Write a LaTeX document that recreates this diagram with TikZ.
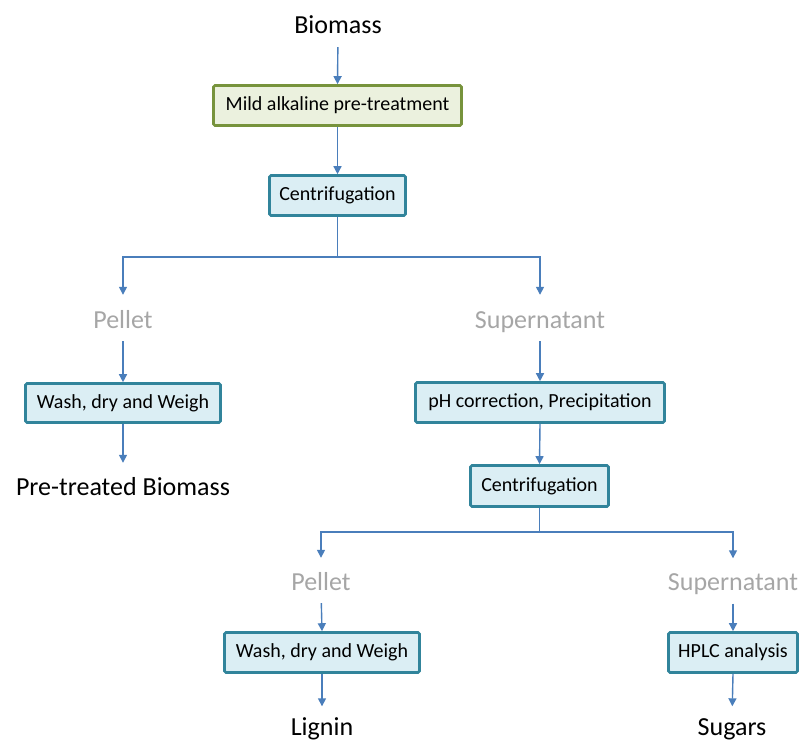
\documentclass[tikz,border=0pt]{standalone}
\usepackage{fontspec}
\setmainfont{Carlito}
\usetikzlibrary{arrows.meta}
\definecolor{arrblue}{HTML}{4A7EBB}
\definecolor{greenbd}{HTML}{77933C}
\definecolor{greenfill}{HTML}{EBF1DE}
\definecolor{tealbd}{HTML}{31849B}
\definecolor{tealfill}{HTML}{DBEEF4}
\definecolor{labgray}{HTML}{A6A6A6}
\tikzset{
  stagebox/.style={draw=tealbd, fill=tealfill, line width=2.6pt, rounded corners=1.5pt,
    inner sep=0pt, font=\fontsize{20}{24}\selectfont, text=black},
  greenbox/.style={stagebox, draw=greenbd, fill=greenfill},
  biglab/.style={inner sep=0pt, text height=17pt, text depth=0pt, font=\fontsize{26}{30}\selectfont, text=black},
  graylab/.style={biglab, text=labgray},
  flowline/.style={draw=arrblue, line width=1.4pt},
  flowarr/.style={flowline, -{Triangle[width=8pt,length=8pt]}},
}
\begin{document}
\begin{tikzpicture}[x=1pt,y=-1pt]
\useasboundingbox (0,0) rectangle (802,742);

% labels
\node[biglab] (biomass) at (338,24.5) {Biomass};
\node[graylab] (pellet1) at (123,319.5) {Pellet};
\node[graylab] (super1) at (540,319.5) {Supernatant};
\node[biglab] (pretreated) at (123,486.5) {Pre-treated Biomass};
\node[graylab] (pellet2) at (321,581.5) {Pellet};
\node[graylab] (super2) at (733,582) {Supernatant};
\node[biglab] (lignin) at (322,727) {Lignin};
\node[biglab] (sugars) at (732,727) {Sugars};

% boxes
\node[greenbox, minimum width=248pt, minimum height=40pt] (mild) at (337.5,105.5) {Mild alkaline pre-treatment};
\node[stagebox, minimum width=136pt, minimum height=40pt] (cent1) at (337.5,195.5) {Centrifugation};
\node[stagebox, minimum width=195pt, minimum height=39pt] (wash1) at (123,403) {Wash, dry and Weigh};
\node[stagebox, minimum width=249pt, minimum height=40pt] (ph) at (540,402.5) {pH correction, Precipitation};
\node[stagebox, minimum width=138pt, minimum height=41pt] (cent2) at (539.5,486) {Centrifugation};
\node[stagebox, minimum width=195pt, minimum height=40pt] (wash2) at (322,652.5) {Wash, dry and Weigh};
\node[stagebox, minimum width=129pt, minimum height=40pt] (hplc) at (733,652.5) {HPLC analysis};

% junctions
\coordinate (j1) at (337.5,257);
\coordinate (j2) at (539.5,532);

% connectors
\draw[flowarr, shorten <=14pt] (biomass.south) -- (mild.north);
\draw[flowarr] (mild.south) -- (cent1.north);
\draw[flowline] (cent1.south) -- (j1);
\draw[flowarr, shorten >=16pt] (j1) -| (pellet1.north);
\draw[flowarr, shorten >=16pt] (j1) -| (super1.north);
\draw[flowarr, shorten <=13pt] (pellet1.south) -- (wash1.north);
\draw[flowarr, shorten >=15pt] (wash1.south) -- (pretreated.north);
\draw[flowarr, shorten <=13pt] (super1.south) -- (ph.north);
\draw[flowarr] (ph.south) -- (cent2.north);
\draw[flowline] (cent2.south) -- (j2);
\draw[flowarr, shorten >=15pt] (j2) -| (pellet2.north);
\draw[flowarr, shorten >=15pt] (j2) -| (super2.north);
\draw[flowarr, shorten <=13pt] (pellet2.south) -- (wash2.north);
\draw[flowarr, shorten >=12pt] (wash2.south) -- (lignin.north);
\draw[flowarr, shorten <=13pt] (super2.south) -- (hplc.north);
\draw[flowarr, shorten >=12pt] (hplc.south) -- (sugars.north);
\end{tikzpicture}
\end{document}
